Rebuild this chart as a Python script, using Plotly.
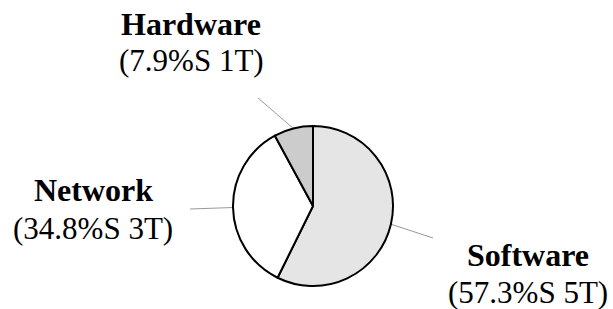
import math
import plotly.graph_objects as go

# ---- data ----
categories = ["Software", "Network", "Hardware"]
shares = [57.3, 34.8, 7.9]
counts = [5, 3, 1]

# ---- styles / layout ----
W, H = 613, 309
colors = ["#e5e5e5", "#ffffff", "#cccccc"]
CX, CY, R = 313, 206, 80  # pie centre and radius in pixels
FONT = "Liberation Serif"
# label anchor (centre x, bold-line middle y, second-line middle y) and leader outer end, in pixels
label_layout = {
    "Hardware": dict(x=191, y1=24, y2=61, lx=258, ly=98),
    "Network": dict(x=93, y1=190, y2=228, lx=190, ly=209),
    "Software": dict(x=528, y1=255, y2=292, lx=433, ly=238),
}


def px(x):
    return x / W


def py(y):
    return 1 - y / H


fig = go.Figure(
    go.Pie(
        values=shares,
        labels=categories,
        sort=False,
        direction="clockwise",
        rotation=0,
        textinfo="none",
        hoverinfo="skip",
        showlegend=False,
        marker=dict(colors=colors, line=dict(color="black", width=2)),
        domain=dict(x=[px(CX - R), px(CX + R)], y=[py(CY + R), py(CY - R)]),
    )
)

total = sum(shares)
start = 0.0
annotations = []
shapes = []
for cat, s, n in zip(categories, shares, counts):
    mid = start + s / total * 360 / 2
    start += s / total * 360
    a = math.radians(mid)
    ix = CX + R * math.sin(a)
    iy = CY - R * math.cos(a)
    L = label_layout[cat]
    shapes.append(dict(type="line", xref="paper", yref="paper",
                       x0=px(ix), y0=py(iy), x1=px(L["lx"]), y1=py(L["ly"]),
                       line=dict(color="#999999", width=1), layer="below"))
    annotations.append(dict(text=f"<b>{cat}</b>", x=px(L["x"]), y=py(L["y1"]),
                            xref="paper", yref="paper", showarrow=False,
                            xanchor="center", yanchor="middle", borderpad=0,
                            font=dict(family=FONT, size=32, color="black")))
    annotations.append(dict(text=f"({s}%S {n}T)", x=px(L["x"]), y=py(L["y2"]),
                            xref="paper", yref="paper", showarrow=False,
                            xanchor="center", yanchor="middle", borderpad=0,
                            font=dict(family=FONT, size=31, color="black")))

fig.update_layout(
    width=W, height=H,
    margin=dict(l=0, r=0, t=0, b=0),
    paper_bgcolor="white", plot_bgcolor="white",
    annotations=annotations, shapes=shapes,
)
fig.write_html("out.html", config={"displayModeBar": False},
               post_script="document.body.style.margin='0';")
